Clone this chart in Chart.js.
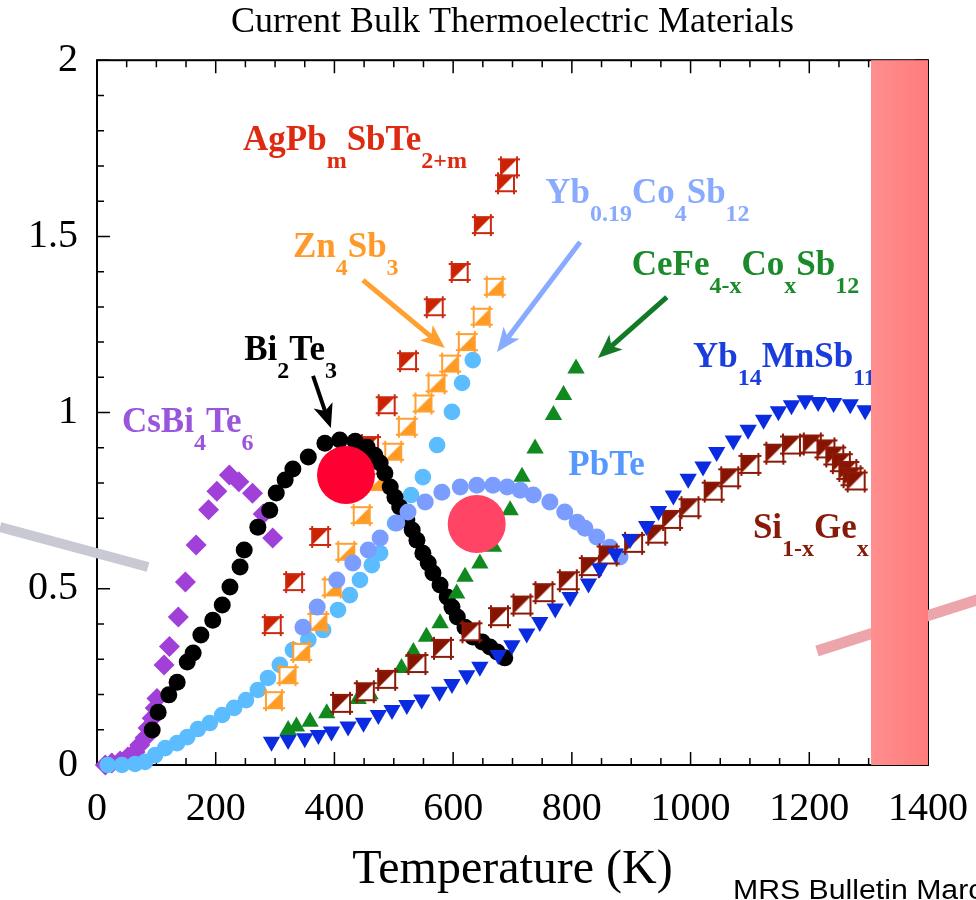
<!DOCTYPE html>
<html><head><meta charset="utf-8">
<script src="https://cdn.jsdelivr.net/npm/chart.js@4.4.1/dist/chart.umd.min.js"></script>
<style>html,body{margin:0;padding:0;background:#fff;}</style>
</head><body>
<canvas id="c" width="976" height="900"></canvas>
<script>
// ---------- data (Temperature K, ZT) ----------
const csbiX = [14,25,39,52,64,72,81,86,93,98,101,113,122,137,149,167,188,202,223,239,262,280,296];
const csbiY = [0.0,0.006,0.011,0.023,0.037,0.057,0.077,0.105,0.133,0.162,0.189,0.284,0.336,0.420,0.519,0.624,0.724,0.777,0.823,0.804,0.771,0.712,0.644];

const bitX = [93,103,121,135,152,162,175,195,211,224,241,248,271,291,302,317,330,356,384,409,435,455,468,477,485,494,502,510,522,531,539,549,558,566,578,590,598,607,620,633,649,662,674,687];
const bitY = [0.099,0.150,0.199,0.235,0.292,0.318,0.369,0.411,0.454,0.505,0.562,0.610,0.675,0.723,0.772,0.809,0.840,0.874,0.913,0.922,0.919,0.902,0.879,0.857,0.828,0.789,0.760,0.732,0.695,0.667,0.638,0.601,0.573,0.545,0.511,0.477,0.448,0.420,0.391,0.363,0.349,0.335,0.321,0.304];

const ybcoX = [18,42,64,81,98,115,135,152,170,190,211,231,251,271,288,308,330,356,381,406,426,443,463,477,502,529,549,573,598,615,633];
const ybcoY = [0.0,0.0,0.003,0.009,0.028,0.048,0.062,0.079,0.102,0.119,0.142,0.162,0.184,0.213,0.247,0.284,0.326,0.355,0.383,0.440,0.482,0.525,0.567,0.601,0.686,0.766,0.817,0.908,1.002,1.084,1.149];

const pbteX = [347,371,404,431,457,477,505,524,553,581,612,640,667,691,713,735,763,788,809,822,842,864,881];
const pbteY = [0.391,0.448,0.525,0.573,0.610,0.644,0.687,0.718,0.746,0.774,0.789,0.794,0.794,0.789,0.780,0.766,0.746,0.718,0.689,0.672,0.647,0.618,0.590];

const znsbX = [298,321,344,373,397,420,446,471,499,522,550,572,595,623,648,670];
const znsbY = [0.184,0.255,0.321,0.406,0.504,0.605,0.709,0.803,0.889,0.960,1.026,1.083,1.139,1.200,1.272,1.357];

const agpbX = [296,332,376,460,488,524,569,611,650,689,694];
const agpbY = [0.397,0.519,0.647,0.908,1.021,1.146,1.299,1.399,1.532,1.651,1.696];

const cefeX = [322,336,359,387,440,460,488,513,533,555,578,606,620,645,668,696,716,738,769,786,807];
const cefeY = [0.099,0.109,0.123,0.147,0.187,0.201,0.241,0.275,0.321,0.364,0.402,0.487,0.534,0.572,0.619,0.723,0.818,0.898,0.993,1.050,1.125];

const ybmnX = [294,322,350,373,395,423,449,474,497,522,547,577,598,623,645,676,699,724,746,772,797,828,847,873,898,926,946,971,996,1021,1044,1072,1097,1123,1148,1170,1193,1215,1241,1269,1294];
const ybmnY = [0.066,0.071,0.076,0.085,0.095,0.109,0.120,0.142,0.156,0.170,0.186,0.208,0.230,0.255,0.279,0.312,0.340,0.373,0.406,0.444,0.477,0.515,0.558,0.600,0.641,0.678,0.721,0.765,0.812,0.847,0.888,0.921,0.951,0.980,1.004,1.021,1.035,1.030,1.027,1.024,1.007];

const sigeX = [412,452,488,539,582,630,678,716,753,794,831,861,904,943,968,999,1038,1066,1100,1142,1170,1205,1228,1243,1254,1265,1272,1279];
const sigeY = [0.175,0.208,0.243,0.288,0.331,0.378,0.421,0.454,0.489,0.523,0.563,0.596,0.629,0.655,0.697,0.730,0.777,0.815,0.853,0.885,0.908,0.911,0.897,0.877,0.858,0.836,0.818,0.806];

const markX = [419.5, 639.7];
const markY = [0.823, 0.684];

const xTickLabels = [0,200,400,600,800,1000,1200,1400];
const yTickLabels = [0,0.5,1,1.5,2];
const limitStart = 1304; // shaded band start (K)

// ---------- annotation text / arrows (data coordinates) ----------
const seriesLabels = [
  {segs:[['AgPb'],['m',1],['SbTe'],['2+m',1]], x:246, y:1.745, color:'#dd2a10'},
  {segs:[['Zn'],['4',1],['Sb'],['3',1]], x:330, y:1.441, color:'#ff9a2a'},
  {segs:[['Bi'],['2',1],['Te'],['3',1]], x:248, y:1.149, color:'#000000'},
  {segs:[['Yb'],['0.19',1],['Co'],['4',1],['Sb'],['12',1]], x:755, y:1.594, color:'#88aaff'},
  {segs:[['CeFe'],['4-x',1],['Co'],['x',1],['Sb'],['12',1]], x:901, y:1.390, color:'#1a8a2a'},
  {segs:[['Yb'],['14',1],['MnSb'],['11',1]], x:1004, y:1.129, color:'#1a3ddd'},
  {segs:[['PbTe']], x:794, y:0.823, color:'#5599ff'},
  {segs:[['CsBi'],['4',1],['Te'],['6',1]], x:42, y:0.945, color:'#9a55dd'},
  {segs:[['Si'],['1-x',1],['Ge'],['x',1]], x:1105, y:0.644, color:'#881a0a'}
];
const arrows = [
  {x1:364, y1:1.104, x2:394, y2:0.956, color:'#000000', w:4},
  {x1:448, y1:1.376, x2:586, y2:1.183, color:'#ffa030', w:5},
  {x1:814, y1:1.484, x2:674, y2:1.172, color:'#88aaff', w:5},
  {x1:960, y1:1.328, x2:844, y2:1.155, color:'#127a25', w:5}
];

// ---------- custom half-filled square markers ----------
function halfSquare(stroke, fill, corner, s) {
  const pad = 4, c = document.createElement('canvas');
  c.width = c.height = s + 2 * pad;
  const g = c.getContext('2d'), a = pad, b = pad + s;
  g.fillStyle = '#ffffff'; g.fillRect(a, a, s, s);
  g.fillStyle = fill; g.beginPath();
  if (corner === 'ul') { g.moveTo(a, a); g.lineTo(b, a); g.lineTo(a, b); }
  else { g.moveTo(b, a); g.lineTo(b, b); g.lineTo(a, b); }
  g.closePath(); g.fill();
  g.strokeStyle = stroke; g.lineWidth = 2; g.beginPath();
  g.moveTo(a - 3, a); g.lineTo(b + 3, a);
  g.moveTo(a - 3, b); g.lineTo(b + 3, b);
  g.moveTo(a, a - 3); g.lineTo(a, b + 3);
  g.moveTo(b, a - 3); g.lineTo(b, b + 3);
  g.stroke();
  return c;
}
const redSq = halfSquare('#cc2a10', '#cc2200', 'ul', 16);
const orSq = halfSquare('#ff9f30', '#ff9a22', 'lr', 16);
const sgSq = halfSquare('#8b1a08', '#861400', 'ul', 17);

function ds(label, xs, ys, extra) {
  return Object.assign({
    label, data: xs.map((x, i) => ({x, y: ys[i]})),
    showLine: false, clip: false, pointBorderWidth: 0, pointHoverRadius: 0
  }, extra);
}

const datasets = [
  ds('Highlight', markX, markY, {order:0, pointRadius:29, pointBackgroundColor:['#ff0033','#ff4466'], pointStyle:'circle'}),
  ds('Yb14MnSb11', ybmnX, ybmnY, {order:1, pointStyle:'triangle', rotation:180, pointRadius:10, pointBackgroundColor:'#0a2be0'}),
  ds('Si1-xGex', sigeX, sigeY, {order:2, pointStyle:sgSq, pointRadius:9}),
  ds('CeFe4-xCoxSb12', cefeX, cefeY, {order:3, pointStyle:'triangle', pointRadius:10, pointBackgroundColor:'#10891f'}),
  ds('PbTe', pbteX, pbteY, {order:4, pointStyle:'circle', pointRadius:8.5, pointBackgroundColor:'#7b9dff'}),
  ds('Bi2Te3', bitX, bitY, {order:5, pointStyle:'circle', pointRadius:8.5, pointBackgroundColor:'#000000'}),
  ds('Zn4Sb3', znsbX, znsbY, {order:6, pointStyle:orSq, pointRadius:9}),
  ds('AgPbmSbTe2+m', agpbX, agpbY, {order:7, pointStyle:redSq, pointRadius:9}),
  ds('Yb0.19Co4Sb12', ybcoX, ybcoY, {order:8, pointStyle:'circle', pointRadius:8.3, pointBackgroundColor:'#5bbcff'}),
  ds('CsBi4Te6', csbiX, csbiY, {order:9, pointStyle:'rectRot', pointRadius:10.5, pointBackgroundColor:'#a040d8'})
];

const serif = '"Liberation Serif", "Times New Roman", serif';

const frameTicks = {
  id: 'frameTicks',
  beforeDatasetsDraw(chart) {
    const {ctx, chartArea: a, scales: {x, y}} = chart;
    ctx.save();
    ctx.strokeStyle = '#000'; ctx.lineWidth = 1.5; ctx.beginPath();
    x.ticks.forEach(t => {
      const p = x.getPixelForValue(t.value);
      const L = Math.round(t.value) % 200 === 0 ? 13 : 7;
      ctx.moveTo(p, a.bottom); ctx.lineTo(p, a.bottom - L);
      ctx.moveTo(p, a.top); ctx.lineTo(p, a.top + L);
    });
    y.ticks.forEach(t => {
      const p = y.getPixelForValue(t.value);
      const L = Math.round(t.value * 10) % 5 === 0 ? 13 : 7;
      ctx.moveTo(a.left, p); ctx.lineTo(a.left + L, p);
      ctx.moveTo(a.right, p); ctx.lineTo(a.right - L, p);
    });
    ctx.stroke();
    ctx.lineWidth = 2;
    ctx.strokeRect(a.left, a.top, a.right - a.left, a.bottom - a.top);
    ctx.restore();
  }
};

function drawRich(ctx, x, y, segs, color) {
  let cx = x;
  ctx.fillStyle = color; ctx.textAlign = 'left'; ctx.textBaseline = 'alphabetic';
  segs.forEach(s => {
    const sub = !!s[1];
    ctx.font = 'bold ' + (sub ? 24 : 35) + 'px ' + serif;
    ctx.fillText(s[0], cx, y + (sub ? 18 : 0));
    cx += ctx.measureText(s[0]).width;
  });
}
function drawArrow(ctx, x1, y1, x2, y2, color, w) {
  const ang = Math.atan2(y2 - y1, x2 - x1), c = Math.cos(ang), s = Math.sin(ang);
  const hl = 24, hw = 10;
  const bx = x2 - hl * c, by = y2 - hl * s;
  ctx.save();
  ctx.strokeStyle = color; ctx.fillStyle = color; ctx.lineWidth = w; ctx.lineCap = 'butt';
  ctx.beginPath(); ctx.moveTo(x1, y1); ctx.lineTo(bx + 6 * c, by + 6 * s); ctx.stroke();
  ctx.beginPath();
  ctx.moveTo(x2, y2);
  ctx.lineTo(bx - hw * s, by + hw * c);
  ctx.lineTo(bx + 6 * c, by + 6 * s);
  ctx.lineTo(bx + hw * s, by - hw * c);
  ctx.closePath(); ctx.fill();
  ctx.restore();
}

const overlay = {
  id: 'overlay',
  afterDatasetsDraw(chart) {
    const {ctx, chartArea: a, scales: {x, y}} = chart;
    ctx.save();
    seriesLabels.forEach(l => drawRich(ctx, x.getPixelForValue(l.x), y.getPixelForValue(l.y), l.segs, l.color));
    arrows.forEach(r => drawArrow(ctx, x.getPixelForValue(r.x1), y.getPixelForValue(r.y1), x.getPixelForValue(r.x2), y.getPixelForValue(r.y2), r.color, r.w));
    // decorative connector strokes
    ctx.lineCap = 'butt';
    ctx.strokeStyle = '#c9c9d3'; ctx.lineWidth = 10;
    ctx.beginPath(); ctx.moveTo(0, 527); ctx.lineTo(148, 567); ctx.stroke();
    ctx.strokeStyle = '#eba5ab'; ctx.lineWidth = 11;
    ctx.beginPath(); ctx.moveTo(817, 651); ctx.lineTo(980, 599); ctx.stroke();
    // shaded band
    const bx = x.getPixelForValue(limitStart);
    const grad = ctx.createLinearGradient(bx, 0, a.right, 0);
    grad.addColorStop(0, '#ff8e8e'); grad.addColorStop(1, '#ff7c7c');
    ctx.fillStyle = grad;
    ctx.fillRect(bx, a.top, a.right - bx, a.bottom - a.top);
    // source note (horizontally stretched like the reference)
    ctx.fillStyle = '#000'; ctx.font = '27px "Liberation Sans", Arial, sans-serif';
    ctx.textAlign = 'left'; ctx.textBaseline = 'alphabetic';
    ctx.translate(733, 899); ctx.scale(1.12, 1);
    ctx.fillText('MRS Bulletin March 2006', 0, 0);
    ctx.restore();
  }
};

new Chart(document.getElementById('c'), {
  type: 'scatter',
  data: {datasets},
  options: {
    responsive: false, animation: false, devicePixelRatio: 1, events: [],
    layout: {padding: {top: 0, right: 48, bottom: 0, left: 0}},
    plugins: {
      legend: {display: false}, tooltip: {enabled: false},
      title: {display: true, fullSize: false, text: 'Current Bulk Thermoelectric Materials', color: '#000',
        font: {family: serif, size: 36, weight: 'normal'}, padding: {top: 1, bottom: 16}}
    },
    scales: {
      x: {
        type: 'linear', min: 0, max: 1400,
        grid: {display: false, drawTicks: false}, border: {display: false},
        ticks: {stepSize: 50, autoSkip: false, maxRotation: 0, padding: 20, color: '#000',
          font: {family: serif, size: 40},
          callback: v => xTickLabels.includes(Math.round(v)) ? String(Math.round(v)) : ''},
        title: {display: true, text: 'Temperature (K)', color: '#000', font: {family: serif, size: 48}, padding: {top: 0, bottom: 1}},
        afterFit(s) { s.height = 135; s.paddingLeft = 0; s.paddingRight = 0; }
      },
      y: {
        min: 0, max: 2,
        grid: {display: false, drawTicks: false}, border: {display: false},
        ticks: {stepSize: 0.1, autoSkip: false, padding: 19, color: '#000',
          font: {family: serif, size: 40},
          callback: v => { const k = Math.round(v * 10) / 10; return yTickLabels.includes(k) ? String(k) : ''; }},
        afterFit(s) { s.width = 97; s.paddingTop = 0; s.paddingBottom = 0; }
      }
    }
  },
  plugins: [frameTicks, overlay]
});
</script>
</body></html>
